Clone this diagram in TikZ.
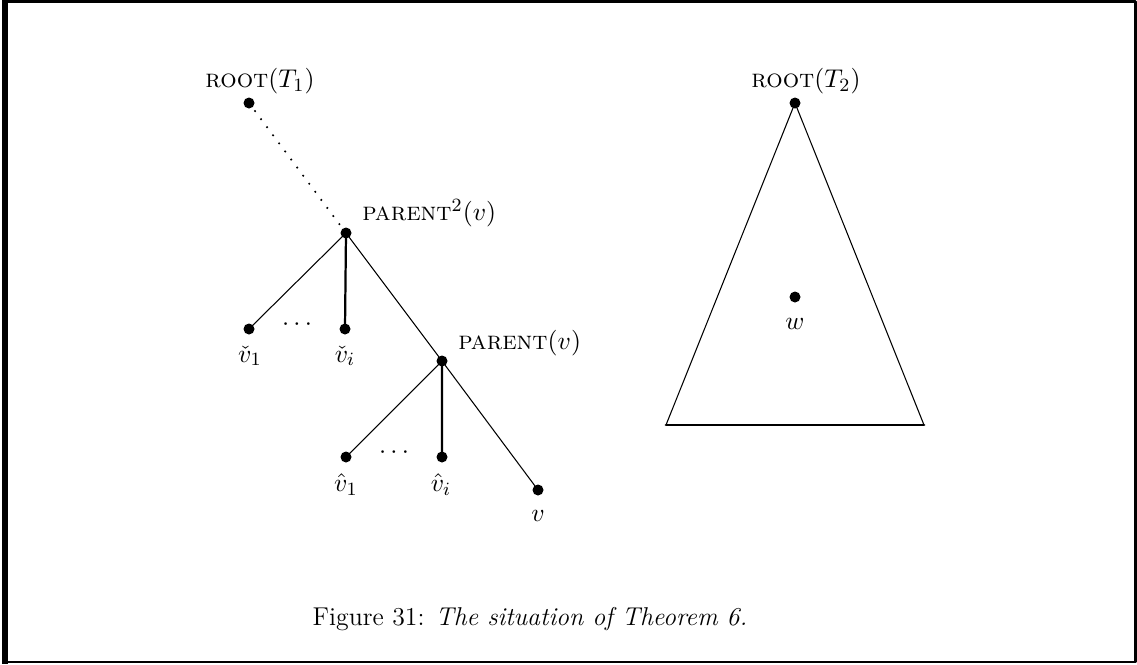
\documentclass[tikz,border=0pt]{standalone}
\begin{document}
\begin{tikzpicture}[x=0.015cm, y=-0.015cm, line join=round, line cap=round,
	font=\fontsize{11}{13.5}\selectfont,
	vdot/.style={fill=black, circle, inner sep=0pt, minimum size=0.165cm},
	thinedge/.style={line width=0.45pt},
	thickedge/.style={line width=0.95pt}]
	\useasboundingbox (0,0) rectangle (1137,664);
	\draw[line width=1.1pt] (5,1.5) rectangle (1135.5,662);
	\draw[line width=2.2pt, line cap=butt] (5,0)--(5,664);
	% left tree
	\path
	(249,103) coordinate (R1)
	(346,233) coordinate (P2)
	(442,361) coordinate (P1)
	(249,329) coordinate (C1)
	(345,329) coordinate (Ci)
	(346,457) coordinate (H1)
	(442,457) coordinate (Hi)
	(538,490) coordinate (V);
	% right tree
	\path
	(795,103) coordinate (R2)
	(666,425) coordinate (BL)
	(924,425) coordinate (BR)
	(795,297) coordinate (W);
	\draw[line width=1pt, dash pattern=on 0pt off 4.3pt] (R1)--(P2);
	\draw[thinedge] (P2)--(C1) (P2)--(P1)--(H1) (P1)--(V);
	\draw[thickedge] (P2)--(Ci) (P1)--(Hi);
	\draw[thinedge] (BL)--(R2)--(BR);
	\draw[line width=1.2pt] (BL)--(BR);
	\foreach \p in {R1,P2,P1,C1,Ci,H1,Hi,V,R2,W}\node[vdot] (d\p) at (\p) {};
	\node (lR1) at (260,81) {\textsc{root}$(T_1)$};
	\node[anchor=west] (lP2) at (354,213) {\textsc{parent}$^2(v)$};
	\node[anchor=west] (lP1) at (450,343) {\textsc{parent}$(v)$};
	\node (lC1) at (250,356) {$\check{v}_1$};
	\node (lCi) at (345,356) {$\check{v}_i$};
	\node (lH1) at (346,485) {$\hat{v}_1$};
	\node (lHi) at (441,485) {$\hat{v}_i$};
	\node (lV) at (538,516) {$v$};
	\node (lR2) at (806,81) {\textsc{root}$(T_2)$};
	\node (lW) at (795,324) {$w$};
	\node (dots1) at (297,325) {$\cdots$};
	\node (dots2) at (394,453) {$\cdots$};
	\node[anchor=base] (caption) at (530,625) {Figure 31: \textit{The situation of Theorem 6.}};
\end{tikzpicture}
\end{document}
